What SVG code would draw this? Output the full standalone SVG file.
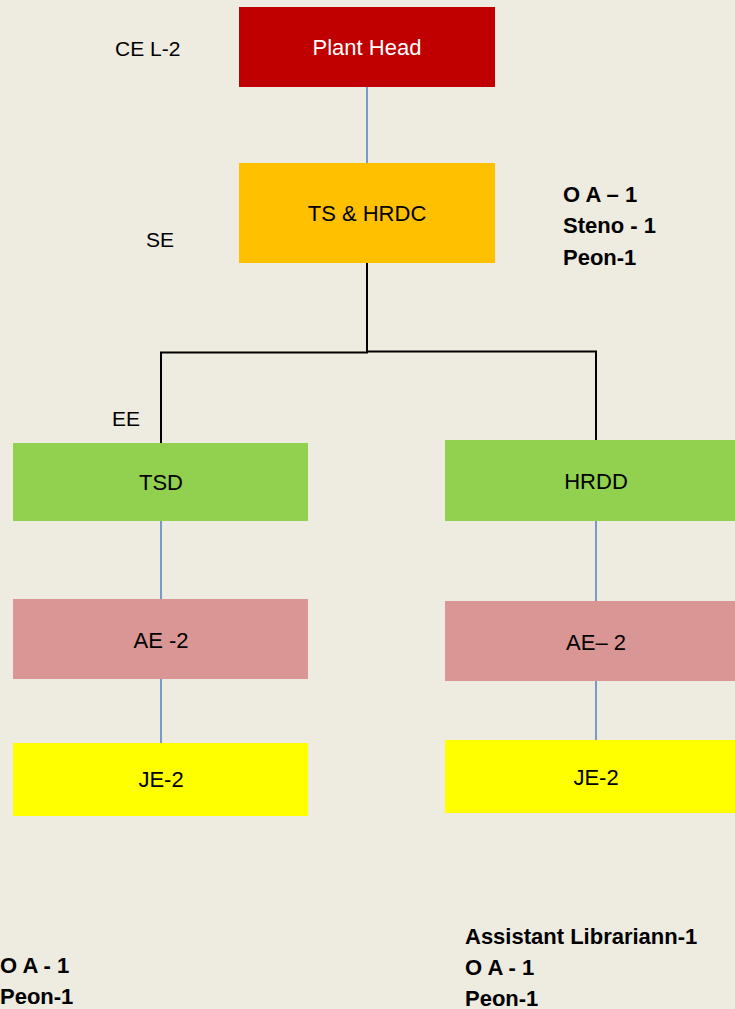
<svg xmlns="http://www.w3.org/2000/svg" width="735" height="1009" viewBox="0 0 735 1009">
<style>
.t{font-family:"Liberation Sans",Arial,sans-serif;font-size:22px;fill:#000;text-anchor:middle}
.w{fill:#fff}
.l{font-family:"Liberation Sans",Arial,sans-serif;font-size:21px;fill:#000}
.b{font-family:"Liberation Sans",Arial,sans-serif;font-size:22px;font-weight:bold;fill:#000}
.blue{stroke:#4F81BD;stroke-width:1.5;fill:none}
.blk{stroke:#000;stroke-width:2;fill:none}
</style>
<rect width="735" height="1009" fill="#EEEBE0"/>
<g id="connectors">
<line class="blue" x1="367" y1="87" x2="367" y2="163"/>
<polyline class="blk" points="367,263 367,352.5 161,352.5 161,443"/>
<polyline class="blk" points="367,351.5 596,351.5 596,440" stroke="#333"/>
<line class="blue" x1="161" y1="521" x2="161" y2="599"/>
<line class="blue" x1="161" y1="679" x2="161" y2="743"/>
<line class="blue" x1="596" y1="521" x2="596" y2="601"/>
<line class="blue" x1="596" y1="681" x2="596" y2="740"/>
</g>
<g id="plant-head">
<rect x="239" y="7" width="256" height="80" fill="#C00000"/>
<text class="t w" x="367" y="55">Plant Head</text>
</g>
<g id="ts-hrdc">
<rect x="239" y="163" width="256" height="100" fill="#FFC000"/>
<text class="t" x="367" y="221">TS &amp; HRDC</text>
</g>
<g id="tsd">
<rect x="13" y="443" width="295" height="78" fill="#92D050"/>
<text class="t" x="161" y="490">TSD</text>
</g>
<g id="hrdd">
<rect x="445" y="440" width="290" height="81" fill="#92D050"/>
<text class="t" x="596" y="489">HRDD</text>
</g>
<g id="ae-left">
<rect x="13" y="599" width="295" height="80" fill="#DA9694"/>
<text class="t" x="161" y="648">AE -2</text>
</g>
<g id="ae-right">
<rect x="445" y="601" width="290" height="80" fill="#DA9694"/>
<text class="t" x="596" y="650">AE– 2</text>
</g>
<g id="je-left">
<rect x="13" y="743" width="295" height="73" fill="#FFFF00"/>
<text class="t" x="161" y="787">JE-2</text>
</g>
<g id="je-right">
<rect x="445" y="740" width="290" height="73" fill="#FFFF00"/>
<text class="t" x="596" y="785">JE-2</text>
</g>
<g id="labels">
<text class="l" x="115" y="56">CE L-2</text>
<text class="l" x="146" y="247">SE</text>
<text class="l" x="112" y="426">EE</text>
<text class="b" x="563" y="202">O A – 1</text>
<text class="b" x="563" y="233">Steno - 1</text>
<text class="b" x="563" y="265">Peon-1</text>
<text class="b" x="0" y="973">O A - 1</text>
<text class="b" x="0" y="1004">Peon-1</text>
<text class="b" x="465" y="944">Assistant Librariann-1</text>
<text class="b" x="465" y="975">O A - 1</text>
<text class="b" x="465" y="1006">Peon-1</text>
</g>
</svg>
